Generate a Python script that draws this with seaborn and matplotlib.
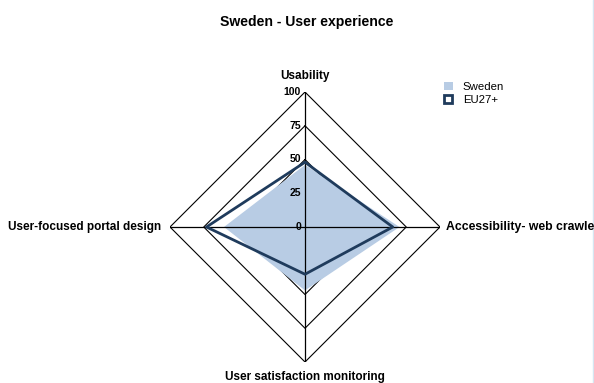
import numpy as np
import pandas as pd
import matplotlib
matplotlib.use("Agg")
import matplotlib.pyplot as plt
import matplotlib.transforms as mtransforms
from matplotlib.patches import Patch
from matplotlib.lines import Line2D
import seaborn as sns

categories = ["Usability", "Accessibility- web crawler",
              "User satisfaction monitoring", "User-focused portal design"]
sweden = [46, 70, 47, 60]
eu27 = [48, 65, 35, 73]
ring_levels = [25, 50, 75, 100]
tick_labels = ["0", "25", "50", "75", "100"]
tick_values = [0, 25, 50, 75, 100]

sns.set_style("white")
plt.rcParams["font.family"] = ["Liberation Sans", "DejaVu Sans"]
plt.rcParams["text.color"] = "black"

W, H = 594, 383
fig = plt.figure(figsize=(W / 100, H / 100), dpi=100)
cx, cy, R = 305, 227, 135
ax = fig.add_axes([(cx - R) / W, (H - cy - R) / H, 2 * R / W, 2 * R / H],
                  projection="polar")
ax.set_theta_offset(np.pi / 2)
ax.set_theta_direction(-1)
ax.set_ylim(0, 100)
ax.grid(False)
ax.spines["polar"].set_visible(False)
ax.patch.set_alpha(0)

n = len(categories)
angles = np.linspace(0, 2 * np.pi, n, endpoint=False)
closed = np.concatenate([angles, angles[:1]])

# diamond rings (under the fill)
for lv in ring_levels:
    ax.plot(closed, [lv] * (n + 1), color="black", lw=0.8, zorder=1)

# Sweden filled area
sw = np.array(sweden + sweden[:1], dtype=float)
ax.fill(closed, sw, color="#b8cce4", zorder=2, lw=0)

# spokes above fill
for a in angles:
    ax.plot([a, a], [0, 100], color="black", lw=0.9, zorder=3)

# EU27+ line via seaborn
df = pd.DataFrame({"theta": closed, "r": eu27 + eu27[:1]})
sns.lineplot(data=df, x="theta", y="r", sort=False, ax=ax, color="#1f3b5c",
             lw=2.0, zorder=4, estimator=None)
ax.set_xlabel("")
ax.set_ylabel("")
ax.set_xticks([])
ax.set_yticks([])
ax.set_ylim(0, 100)

# radial tick labels along top spoke
off = mtransforms.offset_copy(ax.transData, fig=fig, x=-4, y=0, units="dots")
for v, t in zip(tick_values, tick_labels):
    ax.text(0, v, t, transform=off, ha="right", va="center",
            fontsize=7.5, fontweight="bold", zorder=5)

# category labels
lab_fs = 8.5
fig.text(cx / W, 1 - 76 / H, categories[0], ha="center", va="center",
         fontsize=lab_fs, fontweight="bold")
fig.text(446 / W, 1 - 227 / H, categories[1], ha="left", va="center",
         fontsize=8.8, fontweight="bold")
fig.text(cx / W, 1 - 377 / H, categories[2], ha="center", va="center",
         fontsize=lab_fs, fontweight="bold")
fig.text(161 / W, 1 - 227 / H, categories[3], ha="right", va="center",
         fontsize=lab_fs, fontweight="bold")

fig.text(307 / W, 1 - 22 / H, "Sweden - User experience", ha="center",
         va="center", fontsize=10.1, fontweight="bold")

handles = [Patch(facecolor="#b8cce4", edgecolor="none", label="Sweden"),
           Line2D([], [], marker="s", ls="none", markersize=5.5,
                  markerfacecolor="white", markeredgecolor="#1f3b5c",
                  markeredgewidth=2, label="EU27+")]
fig.legend(handles=handles, loc="upper left",
           bbox_to_anchor=(439 / W, 1 - 77 / H), frameon=False,
           fontsize=8.2, handlelength=0.8, handleheight=0.8,
           handletextpad=0.9, labelspacing=0.25, borderaxespad=0)

fig.add_artist(Line2D([592.5 / W, 592.5 / W], [0, 1], color="#d6e6f2",
                      lw=1.0, transform=fig.transFigure))

fig.savefig("out.png", dpi=100)
